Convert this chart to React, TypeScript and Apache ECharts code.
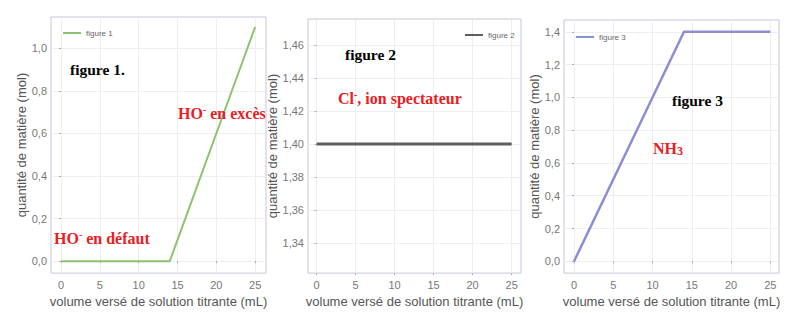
import React, { useEffect, useRef } from "react";
import * as echarts from "echarts";

const volumes1 = [0, 14, 25];
const figure1Values = [0, 0, 1.1];
const volumes2 = [0, 25];
const figure2Values = [1.4, 1.4];
const volumes3 = [0, 14, 25];
const figure3Values = [0, 1.4, 1.4];

const xTicks = [0, 5, 10, 15, 20, 25];
const yTicks1 = [0, 0.2, 0.4, 0.6, 0.8, 1.0];
const yTicks2 = [1.34, 1.36, 1.38, 1.4, 1.42, 1.44, 1.46];
const yTicks3 = [0, 0.2, 0.4, 0.6, 0.8, 1.0, 1.2, 1.4];

const xName = "volume versé de solution titrante (mL)";
const yName = "quantité de matière (mol)";

const fmt = (d: number) => (v: number) => v.toFixed(d).replace(".", ",");

function xAxis(gridIndex: number, min: number, max: number) {
  return {
    type: "value",
    gridIndex,
    min,
    max,
    name: xName,
    nameLocation: "middle",
    nameGap: 18,
    nameTextStyle: { fontFamily: "Liberation Sans", fontSize: 13, color: "#555" },
    axisLine: { show: false },
    axisTick: { show: true, customValues: xTicks, length: 2, lineStyle: { color: "#aaa" } },
    axisLabel: { customValues: xTicks, margin: 6, fontFamily: "Liberation Sans", fontSize: 11, color: "#777", formatter: (v: number) => String(v) },
    splitLine: { show: true, lineStyle: { color: "#eeeef2", width: 1 } },
  };
}

function yAxis(gridIndex: number, min: number, max: number, ticks: number[], dec: number, gap: number) {
  return {
    type: "value",
    gridIndex,
    min,
    max,
    name: yName,
    nameLocation: "middle",
    nameGap: gap,
    nameTextStyle: { fontFamily: "Liberation Sans", fontSize: 13, color: "#555" },
    axisLine: { show: false },
    axisTick: { show: true, customValues: ticks, length: 2, lineStyle: { color: "#aaa" } },
    axisLabel: { customValues: ticks, margin: 4, fontFamily: "Liberation Sans", fontSize: 11, color: "#777", formatter: fmt(dec) },
    splitLine: { show: true, lineStyle: { color: "#eeeef2", width: 1 } },
  };
}

const legendBase = {
  icon: "rect",
  itemWidth: 18,
  itemHeight: 2,
  itemGap: 4,
  textStyle: { fontFamily: "Liberation Sans", fontSize: 8, color: "#666" },
};

const redRich = {
  a: { fontFamily: "Liberation Serif", fontWeight: "bold", fontSize: 16, fill: "#ec1c24", color: "#ec1c24" },
  s: { fontFamily: "Liberation Serif", fontWeight: "bold", fontSize: 10, fill: "#ec1c24", color: "#ec1c24", padding: [0, 0, 8, 0] },
  b: { fontFamily: "Liberation Serif", fontWeight: "bold", fontSize: 12, fill: "#ec1c24", color: "#ec1c24", padding: [5, 0, 0, 0] },
};

function blackText(text: string, x: number, y: number) {
  return {
    type: "text",
    left: x,
    top: y,
    z: 100,
    style: { text, font: "bold 15.5px 'Liberation Serif'", fill: "#000" },
  };
}

function redText(text: string, x: number, y: number) {
  return {
    type: "text",
    left: x,
    top: y,
    z: 100,
    style: { text, rich: redRich, fill: "#ec1c24", font: "bold 16px 'Liberation Serif'" },
  };
}

export default function App() {
  const ref = useRef<HTMLDivElement>(null);
  useEffect(() => {
    if (!ref.current) return;
    const chart = echarts.init(ref.current, undefined, { renderer: "svg" });
    const gridStyle = { show: true, borderColor: "#c3c6de", borderWidth: 1, backgroundColor: "#fff" };
    chart.setOption({
      animation: false,
      backgroundColor: "#fff",
      grid: [
        { left: 51, top: 17, width: 215, height: 257, ...gridStyle },
        { left: 308, top: 19, width: 213, height: 256, ...gridStyle },
        { left: 564, top: 20, width: 215, height: 256, ...gridStyle },
      ],
      xAxis: [xAxis(0, -1.3, 26.4), xAxis(1, -1.1, 26.2), xAxis(2, -1.28, 26.1)],
      yAxis: [
        yAxis(0, -0.056, 1.147, yTicks1, 1, 22),
        yAxis(1, 1.322, 1.4756, yTicks2, 2, 23),
        yAxis(2, -0.072, 1.472, yTicks3, 1, 19),
      ],
      legend: [
        { ...legendBase, data: ["figure 1"], left: 58, top: 24 },
        { ...legendBase, data: ["figure 2"], left: 460, top: 26 },
        { ...legendBase, data: ["figure 3"], left: 571, top: 28 },
      ],
      series: [
        {
          name: "figure 1",
          type: "line",
          xAxisIndex: 0,
          yAxisIndex: 0,
          symbol: "none",
          data: volumes1.map((v, i) => [v, figure1Values[i]]),
          lineStyle: { color: "#8cc46e", width: 2 },
          itemStyle: { color: "#8cc46e" },
        },
        {
          name: "figure 2",
          type: "line",
          xAxisIndex: 1,
          yAxisIndex: 1,
          symbol: "none",
          data: volumes2.map((v, i) => [v, figure2Values[i]]),
          lineStyle: { color: "#5e5e62", width: 3 },
          itemStyle: { color: "#5e5e62" },
        },
        {
          name: "figure 3",
          type: "line",
          xAxisIndex: 2,
          yAxisIndex: 2,
          symbol: "none",
          data: volumes3.map((v, i) => [v, figure3Values[i]]),
          lineStyle: { color: "#8a8fd4", width: 2.5 },
          itemStyle: { color: "#8a8fd4" },
        },
      ],
      graphic: [
        blackText("figure 1.", 70, 61),
        redText("{a|HO}{s|-}{a| en excès}", 178, 104),
        redText("{a|HO}{s|-}{a| en défaut}", 54, 229),
        blackText("figure 2", 345, 46),
        redText("{a|Cl}{s|-}{a|, ion spectateur}", 338, 89),
        blackText("figure 3", 672, 92),
        redText("{a|NH}{b|3}", 653, 140),
      ],
    });
    return () => chart.dispose();
  }, []);
  return (
    <div
      ref={ref}
      style={{ position: "absolute", left: 0, top: 0, width: 789, height: 313 }}
    />
  );
}
